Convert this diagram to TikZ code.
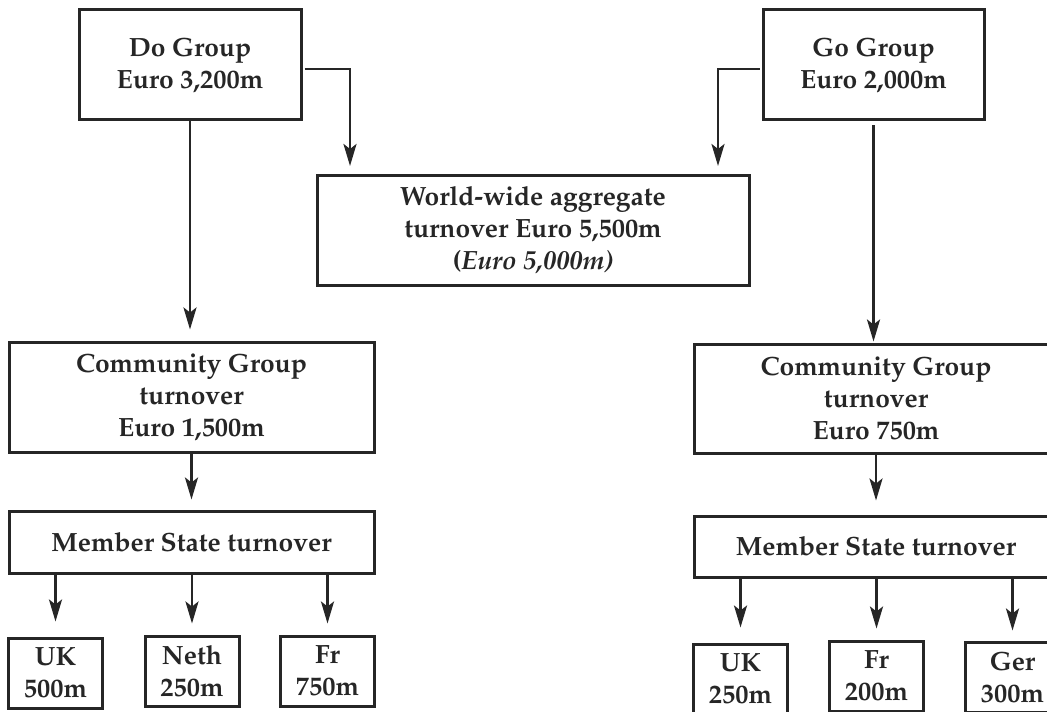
\documentclass[tikz,border=0pt]{standalone}
\usepackage[T1]{fontenc}
\usepackage{mathpazo}
\usetikzlibrary{arrows.meta}
\definecolor{ink}{HTML}{262626}
\begin{document}
\begin{tikzpicture}[x=0.5pt,y=-0.5pt,
  box/.style={draw=ink, line width=1.5pt, text=ink,
    font=\fontsize{13.2}{16}\selectfont\bfseries, align=center, inner sep=0pt},
  smallbox/.style={box, minimum width=47pt, minimum height=35pt},
  arr/.style={draw=ink, line width=1.3pt,
    -{Stealth[length=11pt,width=6.5pt,inset=2.5pt]}}
]
\useasboundingbox (0,0) rectangle (1047,711);
% top groups
\node[box, minimum width=111pt, minimum height=55pt] (do) at (190,65) {\raisebox{0pt}{Do Group}\\Euro 3,200m};
\node[box, minimum width=110.5pt, minimum height=55pt] (go) at (873.5,65) {Go Group\\Euro 2,000m};
\node[box, minimum width=216pt, minimum height=54.5pt] (world) at (533,230.5)
  {World-wide aggregate\\turnover Euro 5,500m\\(\textit{Euro 5,000m)}};
% community
\node[box, minimum width=182.5pt, minimum height=55pt] (commL) at (191.5,397) {Community Group\\turnover\\Euro 1,500m};
\node[box, minimum width=182pt, minimum height=54.5pt] (commR) at (876,398.5) {Community Group\\turnover\\Euro 750m};
% member state
\node[box, minimum width=182.5pt, minimum height=31pt] (memL) at (191.5,542) {Member State turnover};
\node[box, minimum width=182pt, minimum height=30.5pt] (memR) at (876,546.5) {Member State turnover};
% countries
\node[smallbox] (ukL) at (55.5,673) {UK\\500m};
\node[smallbox] (nethL) at (192,671) {Neth\\250m};
\node[smallbox] (frL) at (327.5,671) {Fr\\750m};
\node[smallbox] (ukR) at (740.5,679) {UK\\250m};
\node[smallbox] (frR) at (876.5,676) {Fr\\200m};
\node[smallbox] (gerR) at (1012.5,677) {Ger\\300m};
% connectors
\coordinate (dw) at (350,176);
\coordinate (gw) at (718,176);
\draw[arr, shorten <=1pt, shorten >=5pt] ([yshift=-2pt]do.east) -| (dw);
\draw[arr, shorten <=1pt, shorten >=5pt] ([yshift=-2pt]go.west) -| (gw);
\draw[arr, shorten >=5.5pt] (do.south) -- (do.south |- commL.north);
\draw[arr, shorten <=2pt, shorten >=0.5pt] (go.south) -- (go.south |- commR.north);
\draw[arr, shorten >=5pt] (commL.south) -- (memL.north);
\draw[arr, shorten >=7pt] (commR.south) -- (memR.north);
\draw[arr, shorten >=7.5pt] (memL.south -| ukL) -- (ukL.north);
\draw[arr, shorten >=5.5pt] (memL.south -| nethL) -- (nethL.north);
\draw[arr, shorten >=5.5pt] (memL.south -| frL) -- (frL.north);
\draw[arr, shorten >=7.5pt] (memR.south -| ukR) -- (ukR.north);
\draw[arr, shorten >=5.5pt] (memR.south -| frR) -- (frR.north);
\draw[arr, shorten >=5pt] (memR.south -| gerR) -- (gerR.north);
\end{tikzpicture}
\end{document}
